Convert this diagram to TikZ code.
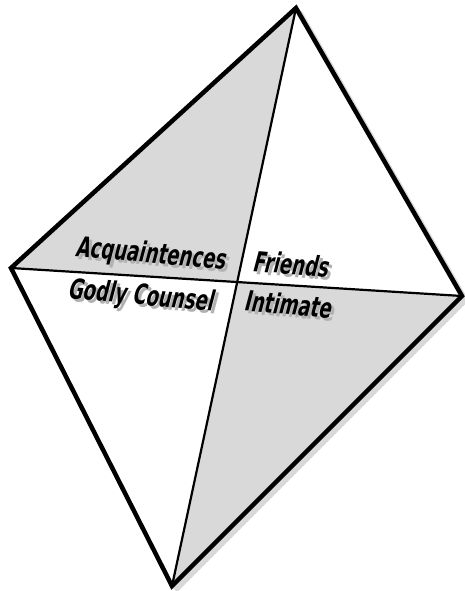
\documentclass[tikz,border=0pt]{standalone}
\usepackage{fontspec}
\newfontfamily\labfont[FakeSlant=0.3]{DejaVu Sans Condensed Bold}
\usetikzlibrary{calc,intersections}
\definecolor{quadgray}{HTML}{D9D9D9}
\tikzset{
  outer/.style={line width=4.5pt, line join=miter, draw=black},
  inner/.style={line width=2.2pt, draw=black},
  lab/.style={font=\labfont\fontsize{28}{28}\selectfont, xscale=0.72, rotate=-3.5, inner sep=0pt},
  labshadow/.style={lab, text=black!30},
}
\begin{document}
\begin{tikzpicture}[x=1pt,y=-1pt]
\useasboundingbox (0,0) rectangle (464,591);
\coordinate (T) at (296,8);
\coordinate (L) at (11,268);
\coordinate (R) at (462,296);
\coordinate (B) at (172,586);
\coordinate (C) at (intersection of T--B and L--R);
\fill[quadgray] (T) -- (L) -- (C) -- cycle;
\fill[quadgray] (R) -- (B) -- (C) -- cycle;
% soft shadow of outline
\draw[line width=6pt, black!15, line join=miter] ($(T)+(3,4)$) -- ($(R)+(3,4)$) -- ($(B)+(3,4)$);
\draw[inner] (T) -- (B);
\draw[inner] (L) -- (R);
\draw[outer] (T) -- (L) -- (B) -- (R) -- cycle;
% labels
\foreach \x/\y/\t/\n in {150/255/Acquaintences/acq, 290/264/Friends/fri, 140/297/Godly Counsel/god, 287/304/Intimate/inti}{
  \node[labshadow] at (\x+3,\y+3) {\t};
  \node[lab] (\n) at (\x,\y) {\t};
}
\end{tikzpicture}
\end{document}
